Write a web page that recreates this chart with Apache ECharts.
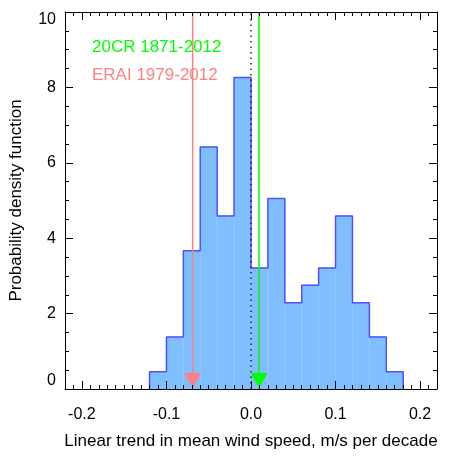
<!DOCTYPE html>
<html>
<head>
<meta charset="utf-8">
<script src="https://cdn.jsdelivr.net/npm/echarts@6/dist/echarts.min.js"></script>
<style>html,body{margin:0;padding:0;background:#fff;}#c{width:458px;height:458px;}</style>
</head>
<body>
<div id="c"></div>
<script>
// ---- data ----
const binEdges = [-0.12, -0.10, -0.08, -0.06, -0.04, -0.02, 0.00, 0.02, 0.04, 0.06, 0.08, 0.10, 0.12, 0.14, 0.16, 0.18];
const pdfValues = [0.46, 1.38, 3.67, 6.42, 4.59, 8.26, 3.21, 5.05, 2.29, 2.75, 3.21, 4.59, 2.29, 1.38, 0.46];
const xTickValues = [-0.2, -0.1, 0.0, 0.1, 0.2];
const yTickValues = [0, 2, 4, 6, 8, 10];
const zeroLineX = [0];
const trendNames = ['20CR 1871-2012', 'ERAI 1979-2012'];
const trendValues = [0.0095, -0.069];
const trendColors = ['#00ff00', '#ff8080'];

const FONT = 'Liberation Sans, Arial, Helvetica, sans-serif';
const chart = echarts.init(document.getElementById('c'), null, {renderer: 'canvas'});

const barData = pdfValues.map((v, i) => [binEdges[i], binEdges[i + 1], v]);
const outline = [[binEdges[0], 0]];
pdfValues.forEach((v, i) => { outline.push([binEdges[i], v]); outline.push([binEdges[i + 1], v]); });
outline.push([binEdges[binEdges.length - 1], 0]);

const XMIN = -0.22, XMAX = 0.22;
function majorX(pos, labels) {
  return {
    type: 'value', position: pos, min: XMIN, max: XMAX, z: 10,
    axisLine: {show: true, onZero: false, lineStyle: {color: '#000', width: 1}},
    axisTick: {show: true, inside: true, length: 8, customValues: xTickValues, lineStyle: {color: '#000', width: 1}},
    axisLabel: {show: labels, customValues: xTickValues, margin: 18, color: '#000', fontSize: 16, fontFamily: FONT,
      formatter: v => v.toFixed(1)},
    splitLine: {show: false}
  };
}
function minorX(pos) {
  return {
    type: 'value', position: pos, min: XMIN, max: XMAX, interval: 0.01, z: 10,
    axisLine: {show: false, onZero: false},
    axisTick: {show: true, inside: true, length: 4, lineStyle: {color: '#000', width: 1}},
    axisLabel: {show: false}, splitLine: {show: false}
  };
}
function yAx(pos, labels) {
  return {
    type: 'value', position: pos, min: 0, max: 10, interval: 2, z: 10,
    axisLine: {show: true, onZero: false, lineStyle: {color: '#000', width: 1}},
    axisTick: {show: true, inside: true, length: 8, lineStyle: {color: '#000', width: 1}},
    minorTick: {show: true, splitNumber: 4, length: 4, lineStyle: {color: '#000', width: 1}},
    axisLabel: {show: labels, margin: 9, color: '#000', fontSize: 16, fontFamily: FONT,
      verticalAlignMinLabel: 'bottom', verticalAlignMaxLabel: 'top'},
    splitLine: {show: false}
  };
}

const xBottom = majorX('bottom', true);
xBottom.name = 'Linear trend in mean wind speed, m/s per decade';
xBottom.nameLocation = 'middle';
xBottom.nameGap = 44;
xBottom.nameTextStyle = {color: '#000', fontSize: 17, fontFamily: FONT};

const yLeft = yAx('left', true);
yLeft.name = 'Probability density function';
yLeft.nameLocation = 'middle';
yLeft.nameGap = 40;
yLeft.nameTextStyle = {color: '#000', fontSize: 17, fontFamily: FONT};

const option = {
  backgroundColor: '#fff',
  animation: false,
  grid: {left: 64, right: 21, top: 12, bottom: 69, containLabel: false},
  xAxis: [xBottom, minorX('bottom'), majorX('top', false), minorX('top')],
  yAxis: [yLeft, yAx('right', false)],
  graphic: trendNames.map((n, i) => ({
    type: 'text', left: 92, top: 39 + i * 28, z: 20,
    style: {text: n, fill: trendColors[i], font: '17px ' + FONT}
  })),
  series: [
    {
      type: 'custom', xAxisIndex: 0, yAxisIndex: 0, z: 1,
      data: barData,
      renderItem: (params, api) => {
        const p0 = api.coord([api.value(0), api.value(2)]);
        const p1 = api.coord([api.value(1), 0]);
        return {type: 'rect', shape: {x: p0[0], y: p0[1], width: p1[0] - p0[0], height: p1[1] - p0[1]},
          style: {fill: '#80bfff', stroke: '#8fc8ff', lineWidth: 1}};
      }
    },
    {
      type: 'line', xAxisIndex: 0, yAxisIndex: 0, z: 2, data: outline, showSymbol: false, symbol: 'none',
      lineStyle: {color: '#5050ff', width: 1.5}
    },
    {
      type: 'line', xAxisIndex: 0, yAxisIndex: 0, z: 3, symbol: 'none',
      data: [[zeroLineX[0], 0], [zeroLineX[0], 10]],
      lineStyle: {color: '#000', width: 1.2, type: [1.5, 4]}
    },
    {
      type: 'custom', xAxisIndex: 0, yAxisIndex: 0, z: 4,
      data: trendValues.map((v, i) => [v, i]),
      renderItem: (params, api) => {
        const x = api.value(0);
        const col = trendColors[api.value(1)];
        const top = api.coord([x, 10]);
        const bot = api.coord([x, 0]);
        const h = 15, w = 17;
        return {type: 'group', children: [
          {type: 'line', shape: {x1: top[0], y1: top[1], x2: bot[0], y2: bot[1] - h}, style: {stroke: col, lineWidth: 1.5}},
          {type: 'polygon', shape: {points: [[bot[0] - w / 2, bot[1] - h - 1], [bot[0] + w / 2, bot[1] - h - 1], [bot[0], bot[1] - 1]]},
            style: {fill: col}}
        ]};
      }
    }
  ]
};
chart.setOption(option);
</script>
</body>
</html>
